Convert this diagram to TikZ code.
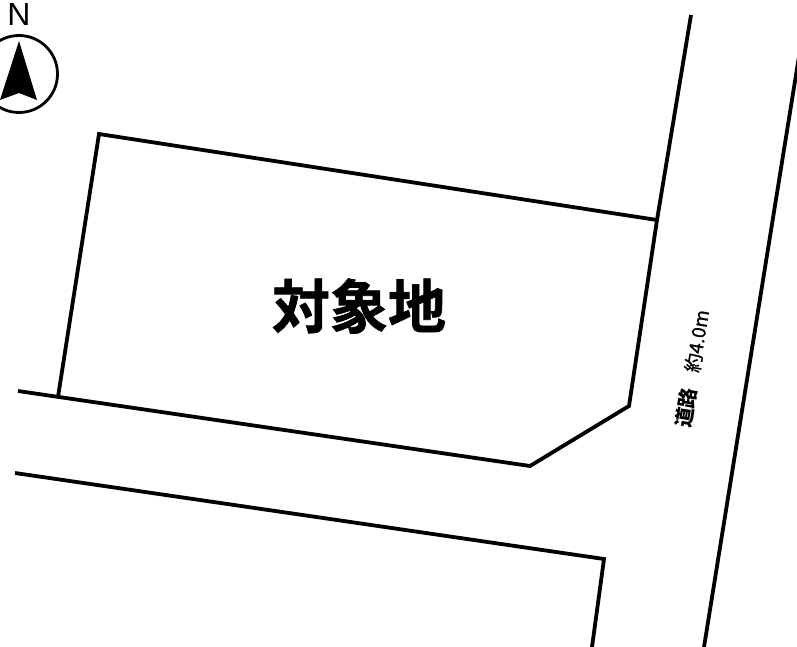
\documentclass[tikz,border=0pt]{standalone}
\usepackage{fontspec}
\setmainfont{Liberation Sans}
\newfontfamily\cjk{Noto Sans CJK JP}
\newfontfamily\cjkheavy{Noto Sans CJK JP Bold}[FakeBold=1.2]
\newfontfamily\cjkmed{Noto Sans CJK JP}[FakeBold=0.9]
\tikzset{
  plan/.style={line width=3.8pt,black,line cap=butt,line join=miter},
  bigtext/.style={font=\cjkheavy\fontsize{58}{58}\selectfont,inner sep=0pt,text=black},
  roadtext/.style={inner sep=0pt,text=black,rotate=80.6}
}
\begin{document}
\begin{tikzpicture}[x=1pt,y=-1pt]
\useasboundingbox[fill=white] (0,0) rectangle (797,647);
% site
\draw[plan] (691,15) -- (657,220) -- (629,406) -- (530,466) -- (18,391);
\draw[plan] (657,220) -- (99,134) -- (58,397);
% lower road edge
\draw[plan] (15,473) -- (604,559) -- (592,647);
% right road edge
\draw[plan] (800,50) -- (704,647);
% label
\node[bigtext] (site) at (359,306) {対象地};
\node[roadtext,font=\cjk\bfseries\fontsize{20}{20}\selectfont] (road) at (686,408) {道路};
\node[roadtext,font=\cjkmed\fontsize{19}{19}\selectfont] (width) at (697,341) {約4.0m};
% north
\node[inner sep=0pt,font=\fontsize{32}{32}\selectfont] (north) at (19,14) {N};
\draw[line width=2.8pt] (19,74) circle (38.5);
\fill (19,41) -- (37,100) -- (19,93) -- (0,100) -- cycle;
\end{tikzpicture}
\end{document}
